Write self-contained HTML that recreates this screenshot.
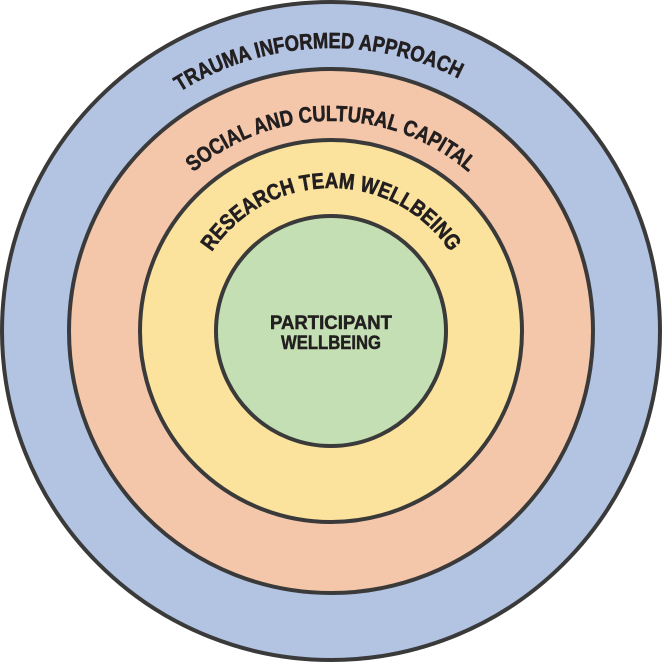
<!DOCTYPE html>
<html><head><style>
html,body{margin:0;padding:0;background:#fff;}
svg{display:block;}
text{font-family:"Liberation Sans",sans-serif;font-weight:bold;fill:#231f20;}
</style></head><body>
<svg width="662" height="663" viewBox="0 0 662 663">
<defs>
<path id="a1" d="M 48,331 A 283,283 0 0 1 614,331"/>
<path id="a2" d="M 121,331 A 210,210 0 0 1 541,331"/>
<path id="a3" d="M 188,331 A 143,143 0 0 1 474,331"/>
</defs>
<circle cx="331" cy="331" r="329" fill="#b3c3e2" stroke="#3a3a3a" stroke-width="4"/>
<circle cx="331" cy="331" r="262" fill="#f4c6aa" stroke="#3a3a3a" stroke-width="4"/>
<circle cx="331" cy="331" r="191" fill="#fbe39d" stroke="#3a3a3a" stroke-width="4"/>
<circle cx="331" cy="331" r="115" fill="#c4dfb3" stroke="#3a3a3a" stroke-width="4"/>
<text font-size="22" stroke="#231f20" stroke-width="0.6"><textPath href="#a1" startOffset="48.5%" text-anchor="middle" textLength="292" lengthAdjust="spacingAndGlyphs">TRAUMA INFORMED APPROACH</textPath></text>
<text font-size="22" stroke="#231f20" stroke-width="0.6"><textPath href="#a2" startOffset="50%" text-anchor="middle" textLength="300" lengthAdjust="spacingAndGlyphs">SOCIAL AND CULTURAL CAPITAL</textPath></text>
<text font-size="22" stroke="#231f20" stroke-width="0.6"><textPath href="#a3" startOffset="50%" text-anchor="middle" textLength="282" lengthAdjust="spacingAndGlyphs">RESEARCH TEAM WELLBEING</textPath></text>
<text x="331" y="329" font-size="19" text-anchor="middle" textLength="122" lengthAdjust="spacingAndGlyphs" stroke="#231f20" stroke-width="0.5">PARTICIPANT</text>
<text x="331" y="349" font-size="19" text-anchor="middle" textLength="100" lengthAdjust="spacingAndGlyphs" stroke="#231f20" stroke-width="0.5">WELLBEING</text>
</svg>
</body></html>
